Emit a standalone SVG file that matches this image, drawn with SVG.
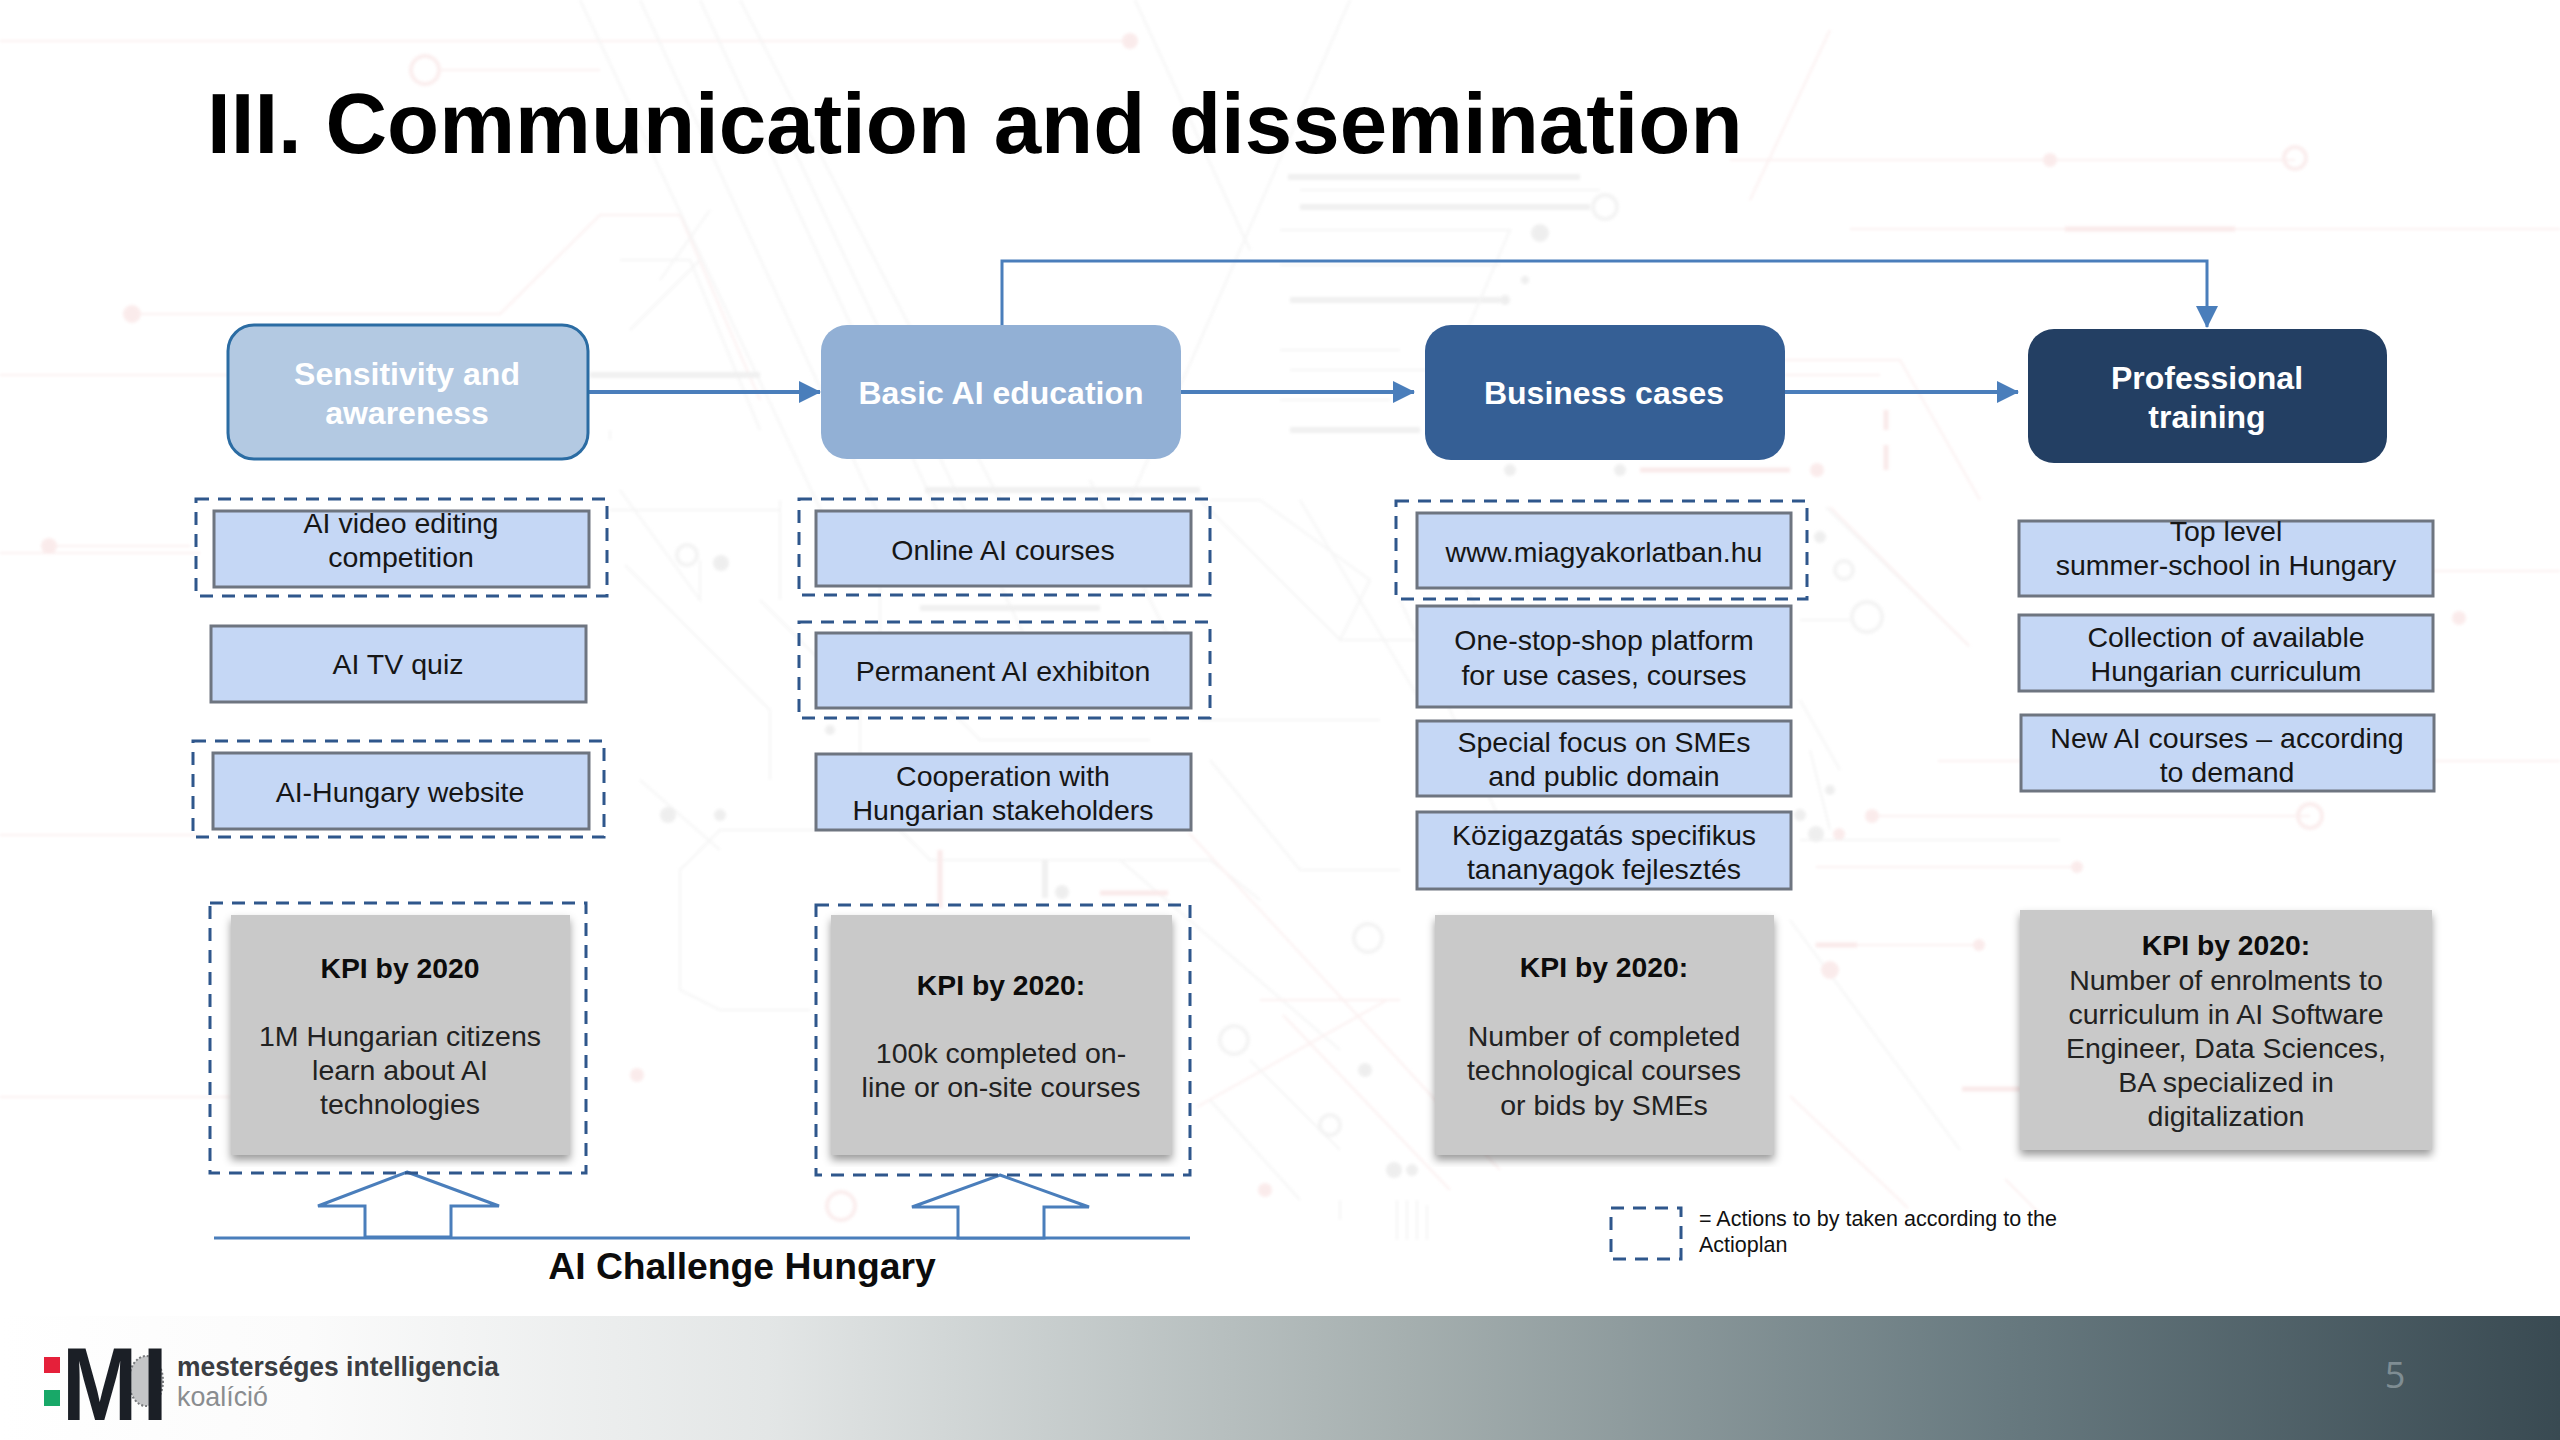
<svg xmlns="http://www.w3.org/2000/svg" width="2560" height="1440" viewBox="0 0 2560 1440">
<style>
text{font-family:"Liberation Sans",Arial,sans-serif}
.b{fill:#c5d7f5;stroke:#6e7580;stroke-width:3}
.t{font-size:28.5px;fill:#161616;text-anchor:middle}
.k{font-size:28.5px;fill:#222;text-anchor:middle}
.kb{font-size:28.3px;font-weight:bold;fill:#0c0c0c;text-anchor:middle}
.d{fill:none;stroke:#2f578c;stroke-width:3;stroke-dasharray:13 9}
.g{fill:#c9c9c9;filter:url(#sh)}
.w{font-size:32px;font-weight:bold;fill:#fff;text-anchor:middle}
.c{fill:none;stroke:#4a7ebb;stroke-width:4}
.o{fill:#fff;stroke:#4a7ebb;stroke-width:3}
.bg1{fill:none;stroke:#eeeeee;stroke-width:2}
.bg2{fill:none;stroke:#e6e6e6;stroke-width:6}
.bg3{fill:none;stroke:#f9e6e6;stroke-width:2}
.bg4{fill:none;stroke:#f7dcdc;stroke-width:5}
.dg{fill:#e4e4e4}
.dp{fill:#f8dfdf}
.tg{fill:none;stroke:#ececec;stroke-width:4}
.tp{fill:none;stroke:#f8e2e2;stroke-width:4}
</style>
<defs>
<marker id="ah" markerUnits="userSpaceOnUse" markerWidth="22" markerHeight="22" refX="21" refY="11" orient="auto"><path d="M0 0L22 11L0 22Z" fill="#4a7ebb"/></marker>
<linearGradient id="fg" x1="0" x2="1" y1="0" y2="0"><stop offset="0" stop-color="#ffffff"/><stop offset=".12" stop-color="#fbfbfb"/><stop offset=".3" stop-color="#e3e6e6"/><stop offset=".55" stop-color="#a5afaf"/><stop offset=".78" stop-color="#687a80"/><stop offset="1" stop-color="#394a52"/></linearGradient>
<filter id="sh" x="-5%" y="-5%" width="110%" height="110%"><feDropShadow dx="0" dy="5" stdDeviation="4" flood-color="#000" flood-opacity=".4"/></filter>
<filter id="bl"><feGaussianBlur stdDeviation="1.5"/></filter>
</defs>
<rect width="2560" height="1440" fill="#fff"/>
<g id="background" filter="url(#bl)" opacity=".6">
<path class="bg3" d="M0 41H1130M0 375H230M0 1097H230M0 553H200M0 835H200"/>
<circle class="dp" cx="1130" cy="41" r="8"/>
<circle class="tp" cx="425" cy="70" r="14"/><path class="bg3" d="M439 70H600"/>
<circle class="dp" cx="132" cy="314" r="9"/><path class="bg3" d="M140 314H500L600 215H680L760 400"/>
<circle class="dp" cx="49" cy="546" r="8"/><path class="bg3" d="M57 546H190"/>
<path class="bg1" d="M580 0L830 530M640 0L900 560M700 0L960 560M740 0L1000 500M780 120L1050 690M1135 0L1250 250M1350 0L1130 500M1000 330H1120M1090 480L1180 660"/>
<path class="bg1" d="M620 490L700 600V560M600 375H760M700 260L630 330M620 260H690L760 430M610 430V440M780 500V600M660 280L710 210"/>
<path class="bg2" d="M590 375H760M1288 177H1580M1300 207H1590M925 490H1200M1290 300H1500M1290 430H1420"/>
<path class="bg1" d="M1300 190H1600M1280 230H1510L1450 370H1290M1280 265H1500M1280 350H1400M1280 400H1390M1300 500L1420 700M1400 600L1500 820M1340 640H1420M1450 560L1500 650"/>
<circle class="tg" cx="1605" cy="207" r="12"/><circle class="dg" cx="1540" cy="233" r="9"/>
<circle class="dg" cx="1505" cy="300" r="5"/><circle class="dg" cx="1525" cy="280" r="4"/><circle class="dg" cx="1620" cy="470" r="6"/><circle class="dg" cx="1510" cy="470" r="6"/>
<path class="bg3" d="M1730 160H2050M2050 160H2295M1830 30L1750 200M1850 229H2560M2433 571H2560M2434 761H2560M1785 360H1900L1980 500M1785 375H1880"/>
<path class="bg4" d="M2065 229H2235"/>
<circle class="dp" cx="2050" cy="160" r="7"/><circle class="tp" cx="2295" cy="158" r="11"/>
<path class="bg4" d="M1886 410V430M1886 445V470M1640 470H1790"/><circle class="dp" cx="1817" cy="470" r="7"/>
<circle class="tg" cx="687" cy="555" r="10"/><circle class="dg" cx="721" cy="563" r="8"/>
<path class="bg1" d="M625 565L770 710V780M760 600L860 700V790L930 860H1210L1260 900M610 510H780M880 530V640L980 740H1150M830 830H720L680 870V990L720 1010H810M640 780L720 850M1120 860L1340 1050"/>
<circle class="dg" cx="668" cy="815" r="8"/><circle class="dg" cx="720" cy="815" r="6"/><circle class="dg" cx="830" cy="730" r="5"/>
<path class="bg4" d="M940 850V908M1100 893H1168"/><path class="bg2" d="M1045 860V898M920 608H1100"/><circle class="dg" cx="1062" cy="892" r="7"/>
<path class="bg3" d="M1189 833L1500 1170M1387 1000L1197 1107M1283 1015L1450 1190M1260 1000H1400"/>
<path class="bg1" d="M1200 500L1340 640L1370 580L1260 500H1210M1200 720H1380M1210 760L1300 870H1400M1250 1060L1340 1150M1340 1200V1220M1210 1100L1300 1200"/>
<circle class="tg" cx="1234" cy="1040" r="14"/><circle class="tg" cx="1330" cy="1125" r="10"/><circle class="tg" cx="1368" cy="938" r="14"/>
<circle class="tp" cx="841" cy="1206" r="14"/><circle class="dp" cx="637" cy="1075" r="7"/><circle class="dp" cx="1265" cy="1190" r="7"/>
<circle class="dg" cx="1365" cy="1070" r="7"/><circle class="dg" cx="1394" cy="1170" r="8"/><circle class="dg" cx="1412" cy="1170" r="6"/>
<path class="bg1" d="M1397 1200V1240M1407 1200V1240M1417 1200V1240M1427 1205V1240"/>
<circle class="tg" cx="1867" cy="617" r="15"/><circle class="tg" cx="1844" cy="570" r="9"/><circle class="dg" cx="1820" cy="537" r="6"/>
<path class="bg1" d="M1826 507L1969 646M1800 620H1850M1800 700L1840 770M1810 750L1830 830M1800 840H2060M1790 920L1960 1150"/>
<path class="bg3" d="M1872 816H2310M1816 867H2077M1815 945H1979M1938 761H2021"/>
<circle class="dp" cx="1872" cy="816" r="7"/><circle class="tp" cx="2310" cy="816" r="12"/><circle class="dp" cx="2077" cy="867" r="6"/><circle class="dp" cx="1979" cy="945" r="6"/><circle class="dp" cx="1830" cy="970" r="9"/><circle class="dp" cx="2459" cy="618" r="7"/>
<circle class="dp" cx="1839" cy="834" r="6"/><circle class="dg" cx="1816" cy="834" r="8"/><circle class="dg" cx="1800" cy="815" r="6"/><circle class="dg" cx="1830" cy="790" r="5"/>
<path class="bg4" d="M1816 945H1857M1962 1089H2020"/>
<path class="bg3" d="M1969 646L1830 507M1790 1096L1908 1208M2005 1179L2040 1214"/>
</g>
<rect id="footer" y="1316" width="2560" height="124" fill="url(#fg)"/>
<text id="title" x="207" y="153" style="font-size:85.3px;font-weight:bold;fill:#000">III. Communication and dissemination</text>
<g id="connectors">
<path class="c" d="M588 392H820" marker-end="url(#ah)"/>
<path class="c" d="M1181 392H1414" marker-end="url(#ah)"/>
<path class="c" d="M1785 392H2018" marker-end="url(#ah)"/>
<path class="c" style="stroke-width:3" d="M1002 325V261H2207V327" marker-end="url(#ah)"/>
<path class="c" style="stroke-width:3" d="M214 1238H1190"/>
<path id="up1" class="o" d="M407 1172L499 1206H451V1237H365V1206H318Z"/>
<path id="up2" class="o" d="M1000 1175L1089 1207H1044V1238H958V1207H912Z"/>
</g>
<g id="n-sensitivity"><rect x="228" y="325" width="360" height="134" rx="26" fill="#b3c9e2" stroke="#2b6ca3" stroke-width="3"/><text class="w" x="407" y="385">Sensitivity and</text><text class="w" x="407" y="424">awareness</text></g>
<g id="n-basic"><rect x="821" y="325" width="360" height="134" rx="26" fill="#92b0d5"/><text class="w" x="1001" y="404">Basic AI education</text></g>
<g id="n-business"><rect x="1425" y="325" width="360" height="135" rx="26" fill="#355f95"/><text class="w" x="1604" y="404">Business cases</text></g>
<g id="n-professional"><rect x="2028" y="329" width="359" height="134" rx="26" fill="#233f63"/><text class="w" x="2207" y="389">Professional</text><text class="w" x="2207" y="428">training</text></g>
<g id="a1"><rect class="d" x="196" y="499" width="411" height="97"/><rect class="b" x="214" y="511" width="375" height="76"/><text class="t" x="401" y="533">AI video editing</text><text class="t" x="401" y="567">competition</text></g>
<g id="a2"><rect class="b" x="211" y="626" width="375" height="76"/><text class="t" x="398" y="674">AI TV quiz</text></g>
<g id="a3"><rect class="d" x="193" y="741" width="411" height="96"/><rect class="b" x="213" y="753" width="376" height="76"/><text class="t" x="400" y="802">AI-Hungary website</text></g>
<g id="b1"><rect class="d" x="799" y="499" width="411" height="96"/><rect class="b" x="816" y="511" width="375" height="75"/><text class="t" x="1003" y="560">Online AI courses</text></g>
<g id="b2"><rect class="d" x="799" y="622" width="411" height="96"/><rect class="b" x="816" y="633" width="375" height="75"/><text class="t" x="1003" y="681">Permanent AI exhibiton</text></g>
<g id="b3"><rect class="b" x="816" y="754" width="375" height="76"/><text class="t" x="1003" y="786">Cooperation with</text><text class="t" x="1003" y="820">Hungarian stakeholders</text></g>
<g id="c1"><rect class="d" x="1396" y="501" width="411" height="98"/><rect class="b" x="1417" y="513" width="374" height="75"/><text class="t" x="1604" y="562">www.miagyakorlatban.hu</text></g>
<g id="c2"><rect class="b" x="1417" y="606" width="374" height="101"/><text class="t" x="1604" y="650">One-stop-shop platform</text><text class="t" x="1604" y="685">for use cases, courses</text></g>
<g id="c3"><rect class="b" x="1417" y="721" width="374" height="75"/><text class="t" x="1604" y="752">Special focus on SMEs</text><text class="t" x="1604" y="786">and public domain</text></g>
<g id="c4"><rect class="b" x="1417" y="812" width="374" height="77"/><text class="t" x="1604" y="845">Közigazgatás specifikus</text><text class="t" x="1604" y="879">tananyagok fejlesztés</text></g>
<g id="d1"><rect class="b" x="2019" y="521" width="414" height="75"/><text class="t" x="2226" y="541">Top level</text><text class="t" x="2226" y="575">summer-school in Hungary</text></g>
<g id="d2"><rect class="b" x="2019" y="615" width="414" height="76"/><text class="t" x="2226" y="647">Collection of available</text><text class="t" x="2226" y="681">Hungarian curriculum</text></g>
<g id="d3"><rect class="b" x="2021" y="715" width="413" height="76"/><text class="t" x="2227" y="748">New AI courses – according</text><text class="t" x="2227" y="782">to demand</text></g>
<g id="k1"><rect class="d" x="210" y="903" width="376" height="270" stroke-dasharray="10 7"/><rect class="g" x="231" y="915" width="339" height="240"/><text class="kb" x="400" y="978">KPI by 2020</text><text class="k" x="400" y="1046">1M Hungarian citizens</text><text class="k" x="400" y="1080">learn about AI</text><text class="k" x="400" y="1114">technologies</text></g>
<g id="k2"><rect class="d" x="816" y="905" width="374" height="270"/><rect class="g" x="831" y="915" width="341" height="240"/><text class="kb" x="1001" y="995">KPI by 2020:</text><text class="k" x="1001" y="1063">100k completed on-</text><text class="k" x="1001" y="1097">line or on-site courses</text></g>
<g id="k3"><rect class="g" x="1435" y="915" width="339" height="240"/><text class="kb" x="1604" y="977">KPI by 2020:</text><text class="k" x="1604" y="1046">Number of completed</text><text class="k" x="1604" y="1080">technological courses</text><text class="k" x="1604" y="1115">or bids by SMEs</text></g>
<g id="k4"><rect class="g" x="2020" y="910" width="412" height="240"/><text class="kb" x="2226" y="955">KPI by 2020:</text><text class="k" x="2226" y="990">Number of enrolments to</text><text class="k" x="2226" y="1024">curriculum in AI Software</text><text class="k" x="2226" y="1058">Engineer, Data Sciences,</text><text class="k" x="2226" y="1092">BA specialized in</text><text class="k" x="2226" y="1126">digitalization</text></g>
<text id="challenge" x="742" y="1279" style="font-size:37.3px;font-weight:bold;fill:#0c0c0c;text-anchor:middle">AI Challenge Hungary</text>
<g id="legend"><rect class="d" x="1611" y="1208" width="70" height="51"/><text x="1699" y="1226" style="font-size:21.5px;fill:#111">= Actions to by taken according to the</text><text x="1699" y="1252" style="font-size:21.5px;fill:#111">Actioplan</text></g>
<g id="logo">
<rect x="44" y="1357" width="16" height="16" fill="#e5203a"/><rect x="44" y="1390" width="16" height="16" fill="#18a868"/>
<ellipse cx="146" cy="1381" rx="17" ry="25" fill="#c4c5c7" stroke="#77797c" stroke-width="2" stroke-dasharray="2 2"/>
<text transform="translate(62 1420) scale(.87 1)" style="font-size:104px;font-weight:bold;fill:#1b1f26">M<tspan dx="6">I</tspan></text>
<text x="177" y="1376" textLength="322" lengthAdjust="spacingAndGlyphs" style="font-size:27px;font-weight:bold;fill:#3a3d42">mesterséges intelligencia</text>
<text x="177" y="1406" textLength="91" lengthAdjust="spacingAndGlyphs" style="font-size:27px;fill:#8a8d90">koalíció</text>
</g>
<text id="page" x="2395" y="1388" style="font-size:36px;fill:#7f8d93;font-family:'Open Sans',sans-serif;text-anchor:middle">5</text>
</svg>
